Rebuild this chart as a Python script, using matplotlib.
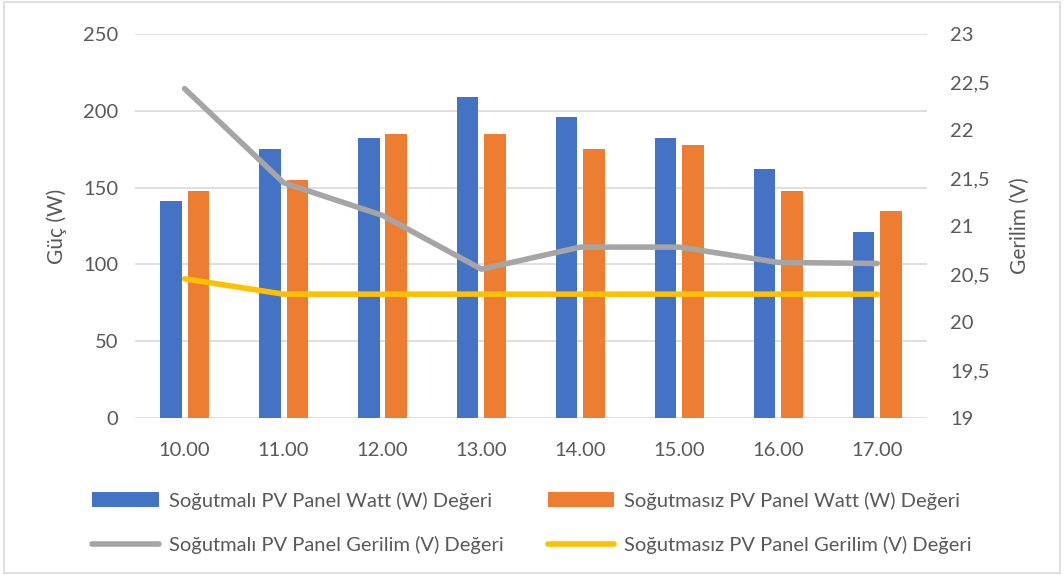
import numpy as np
import matplotlib.pyplot as plt
from matplotlib.patches import Rectangle

plt.rcParams['font.family'] = ['Lato', 'DejaVu Sans']

hours = ["10.00", "11.00", "12.00", "13.00", "14.00", "15.00", "16.00", "17.00"]
watt_cooled = [141, 175, 182, 209, 196, 182, 162, 121]
watt_uncooled = [148, 155, 185, 185, 175, 178, 148, 135]
volt_cooled = [22.43, 21.45, 21.11, 20.55, 20.78, 20.78, 20.62, 20.61]
volt_uncooled = [20.45, 20.29, 20.29, 20.29, 20.29, 20.29, 20.29, 20.29]

blue = "#4472C4"
orange = "#ED7D31"
grey = "#A5A5A5"
yellow = "#FFC000"
txt = "#595959"

fig = plt.figure(figsize=(10.64, 5.75), dpi=100)
fig.patches.append(Rectangle((0.004, 0.004), 0.992, 0.992, transform=fig.transFigure,
                             fill=False, edgecolor="#D9D9D9", linewidth=1.2))
ax = fig.add_axes([0.127, 0.273, 0.744, 0.668])
x = np.arange(len(hours))
w = 0.22
b1 = ax.bar(x - 0.14, watt_cooled, w, color=blue, label="Soğutmalı PV Panel Watt (W) Değeri", zorder=2)
b2 = ax.bar(x + 0.14, watt_uncooled, w, color=orange, label="Soğutmasız PV Panel Watt (W) Değeri", zorder=2)
ax.set_ylim(0, 250)
ax.set_yticks(range(0, 251, 50))
ax.set_xlim(-0.5, len(hours) - 0.5)
ax.set_xticks(x)
ax.set_xticklabels(hours)
ax.grid(axis="y", color="#D9D9D9", linewidth=1.2, zorder=0)
ax.set_axisbelow(True)
for s in ax.spines.values():
    s.set_visible(False)
ax.tick_params(length=0, labelsize=14.5, labelcolor=txt, pad=12)
ax.tick_params(axis="x", pad=17)
ax.set_ylabel("Güç (W)", fontsize=15, color=txt, labelpad=12)

ax2 = ax.twinx()
l1, = ax2.plot(x, volt_cooled, color=grey, linewidth=4, solid_capstyle="round",
               label="Soğutmalı PV Panel Gerilim (V) Değeri")
l2, = ax2.plot(x, volt_uncooled, color=yellow, linewidth=4, solid_capstyle="round",
               label="Soğutmasız PV Panel Gerilim (V) Değeri")
ax2.set_ylim(19, 23)
ax2.set_yticks(np.arange(19, 23.01, 0.5))
ax2.set_yticklabels([("%g" % v).replace(".", ",") for v in np.arange(19, 23.01, 0.5)])
for s in ax2.spines.values():
    s.set_visible(False)
ax2.tick_params(length=0, labelsize=14.5, labelcolor=txt, pad=17)
ax2.set_ylabel("Gerilim (V)", fontsize=15, color=txt, labelpad=14)

handles = [b1, l1, b2, l2]
fig.legend(handles, [h.get_label() for h in handles],
           ncol=2, loc="center", bbox_to_anchor=(0.5, 0.091), frameon=False, fontsize=14.5,
           labelcolor=txt, handlelength=3.3, handletextpad=0.5, columnspacing=2.2,
           labelspacing=1.3)

fig.savefig("out.png", dpi=100)
